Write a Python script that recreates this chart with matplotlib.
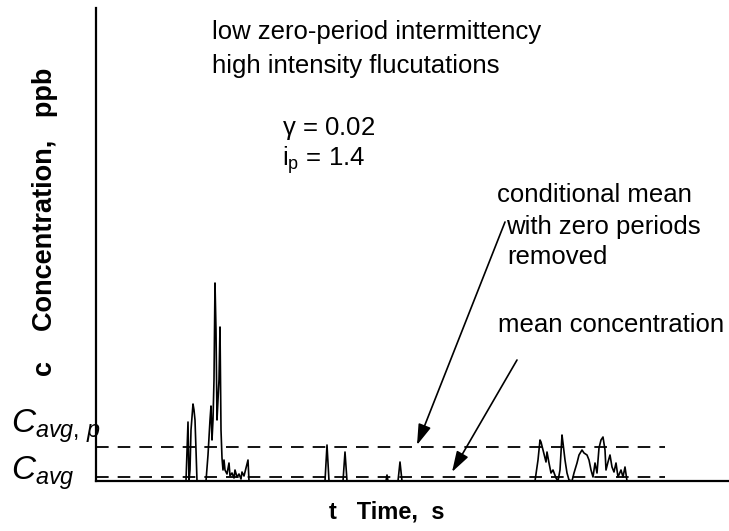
import matplotlib.pyplot as plt

plt.rcParams['font.family'] = ['Liberation Sans', 'DejaVu Sans']
plt.rcParams['mathtext.fontset'] = 'custom'
plt.rcParams['mathtext.rm'] = 'Liberation Sans'
plt.rcParams['mathtext.it'] = 'Liberation Sans:italic'

# time series (arbitrary units)
t = [0, 90, 92, 93, 94, 95, 97, 98, 99, 100, 101, 110, 112, 114, 115, 116, 117, 118,
     119, 120, 121, 122, 123, 124, 125, 126, 127, 128, 129, 131, 133, 134, 136, 138,
     139, 141, 143, 145, 146, 148, 150, 152, 153,
     229, 231, 233, 247, 249, 251, 290, 291, 292, 302, 304, 306,
     439, 442, 444, 445, 447, 450, 451, 453, 455, 457, 460, 462, 464, 466, 467, 469,
     471, 473, 476, 478, 481, 483, 486, 488, 491, 493, 495, 497, 499, 501, 503, 505,
     507, 509, 510, 512, 514, 516, 518, 520, 522, 525, 527, 529, 531, 633]
c = [0, 0, 59, 0, 11, 51, 77, 71, 61, 31, 0, 0, 26, 61, 75, 41, 61, 101,
     198, 151, 61, 81, 101, 154, 51, 23, 11, 21, 11, 7, 18, 5, 8, 3,
     11, 4, 7, 2, 9, 5, 13, 21, 0,
     0, 36, 0, 0, 29, 0, 0, 6, 0, 0, 19, 0,
     0, 21, 41, 39, 31, 19, 29, 18, 8, 11, 3, 0, 11, 46, 38, 21,
     8, 1, 0, 8, 18, 26, 31, 28, 26, 21, 11, 4, 18, 8, 33, 41,
     44, 31, 11, 19, 26, 14, 9, 18, 4, 11, 4, 14, 0, 0]

c_avg_p = 34
c_avg = 4
dash_end = 569

fig = plt.figure(figsize=(7.29, 5.31), dpi=100)
ax = fig.add_axes([96 / 729, 50 / 531, 633 / 729, 473 / 531])
ax.set_xlim(0, 633)
ax.set_ylim(0, 473)

ax.plot(t, c, color='black', lw=1.2)
ax.plot([0, dash_end], [c_avg_p, c_avg_p], color='black', lw=1.3, dashes=(7, 5))
ax.plot([0, dash_end], [c_avg, c_avg], color='black', lw=1.3, dashes=(7, 5))

for s in ['top', 'right']:
    ax.spines[s].set_visible(False)
for s in ['left', 'bottom']:
    ax.spines[s].set_linewidth(1.6)
ax.set_xticks([])
ax.set_yticks([])

ax.set_ylabel('c    Concentration,   ppb', fontsize=19.5, fontweight='bold')
ax.yaxis.set_label_coords(-0.06, 0.548)
ax.set_xlabel('t   Time,  s', fontsize=17, fontweight='bold')
ax.xaxis.set_label_coords(0.46, -0.042)

fs = 18.5
ax.text(116, 449, 'low zero-period intermittency', fontsize=fs, va='center')
ax.text(116, 415, 'high intensity flucutations', fontsize=fs, va='center')
ax.text(186, 353, r'$\mathregular{\gamma}$ = 0.02', fontsize=fs, va='center')
ax.text(186, 321, r'$\mathregular{i_p}$ = 1.4', fontsize=fs, va='center')
ax.text(401, 286, 'conditional mean', fontsize=fs, va='center')
ax.text(410, 254, 'with zero periods', fontsize=fs, va='center')
ax.text(411, 224, 'removed', fontsize=fs, va='center')
ax.text(402, 156, 'mean concentration', fontsize=fs, va='center')

ax.text(-85, 48, r'$C_{avg,\,p}$', fontsize=24, va='baseline', clip_on=False)
ax.text(-85, 1, r'$C_{avg}$', fontsize=24, va='baseline', clip_on=False)

arrow = dict(arrowstyle='-|>,head_length=0.7,head_width=0.22', color='black',
             lw=1.2, shrinkA=0, shrinkB=0, mutation_scale=18)
ax.annotate('', xy=(321, 36), xytext=(409, 259), arrowprops=arrow)
ax.annotate('', xy=(356, 9), xytext=(421, 121), arrowprops=arrow)

fig.savefig('out.png', dpi=100)
